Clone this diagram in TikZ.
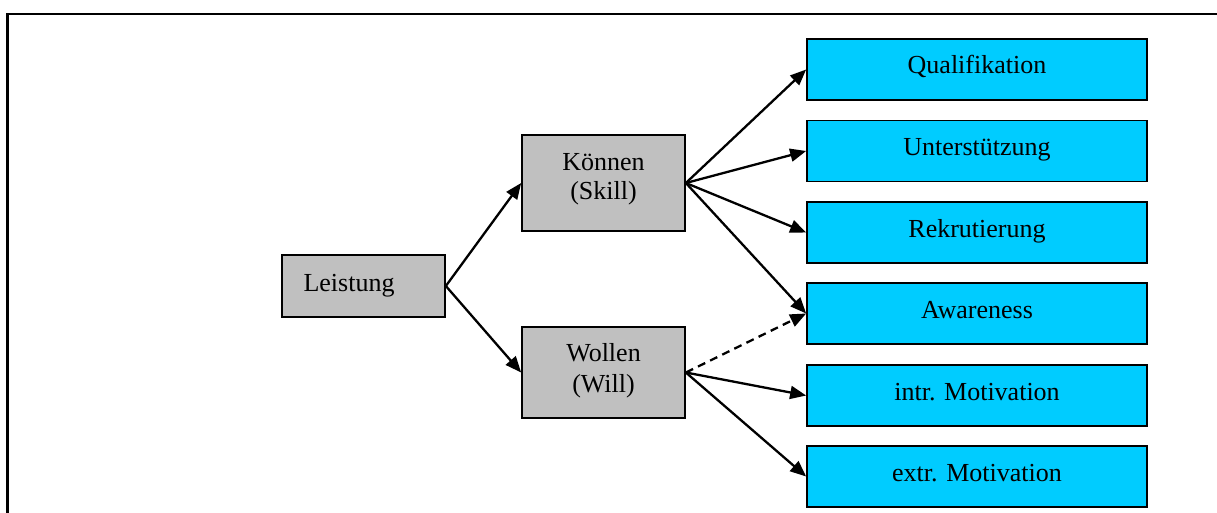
\documentclass[tikz,border=0pt]{standalone}
\usepackage{fontspec}
\setmainfont{Liberation Serif}
\usetikzlibrary{arrows.meta}

\definecolor{boxgray}{HTML}{C0C0C0}
\definecolor{boxblue}{HTML}{00CCFF}

\tikzset{
  x=1pt, y=-1pt,
  every node/.style={font=\fontsize{26}{30}\selectfont},
  graybox/.style={draw=black, line width=1.7pt, fill=boxgray, inner sep=0pt,
    minimum width=163pt},
  bluebox/.style={draw=black, line width=1.7pt, fill=boxblue, inner sep=0pt,
    minimum width=340pt, minimum height=61pt, text height=18pt, text depth=9pt},
  arr/.style={line width=2.3pt, -{Triangle[length=16pt,width=13pt]}},
  dasharr/.style={arr, dash pattern=on 8pt off 5.5pt},
  frameline/.style={line width=2.5pt, line cap=rect},
}

\begin{document}
\begin{tikzpicture}
  \useasboundingbox (0,0) rectangle (1217,513);

  % page frame (top and left edges)
  \draw[frameline] (7.5,540) -- (7.5,14) -- (1240,14);

  % root and the two factors
  \node[graybox, minimum height=62pt] (leist) at (363.5,286) {};
  \node[anchor=base west] (leistT) at (300,291) {Leistung};

  \node[graybox, minimum height=96pt] (koennen) at (603.5,183) {};
  \node[anchor=base] (koennenA) at ([yshift=12pt]koennen.center) {Können};
  \node[anchor=base] (koennenB) at ([yshift=-17pt]koennen.center) {(Skill)};

  \node[graybox, minimum height=91pt] (wollen) at (603.5,372.5) {};
  \node[anchor=base] (wollenA) at ([yshift=11.5pt]wollen.center) {Wollen};
  \node[anchor=base] (wollenB) at ([yshift=-19.5pt]wollen.center) {(Will)};

  % measures
  \node[bluebox] (qual)  at (977,69.5)  {Qualifikation};
  \node[bluebox] (unter) at (977,151)   {Unterstützung};
  \node[bluebox] (rekr)  at (977,232.5) {Rekrutierung};
  \node[bluebox] (aware) at (977,313.5) {Awareness};
  \node[bluebox] (intr)  at (977,395.5) {intr. Motivation};
  \node[bluebox] (extr)  at (977,476.5) {extr. Motivation};

  % connectors
  \draw[arr] (leist.east) -- (koennen.west);
  \draw[arr] (leist.east) -- (wollen.west);

  \draw[arr] (koennen.east) -- (qual.west);
  \draw[arr] (koennen.east) -- (unter.west);
  \draw[arr] (koennen.east) -- (rekr.west);
  \draw[arr] (koennen.east) -- (aware.west);

  \draw[dasharr] (wollen.east) -- (aware.west);
  \draw[arr] (wollen.east) -- (intr.west);
  \draw[arr] (wollen.east) -- (extr.west);
\end{tikzpicture}
\end{document}
